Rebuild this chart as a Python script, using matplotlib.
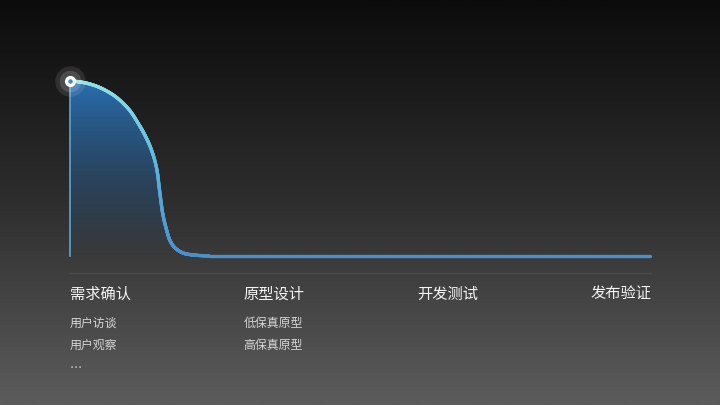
import numpy as np
import matplotlib.pyplot as plt
from matplotlib.collections import LineCollection
from matplotlib.colors import LinearSegmentedColormap

plt.rcParams['font.family'] = ['Noto Sans CJK SC', 'DejaVu Sans']

# curve: progress (0-100) vs. level (0-100)
progress = [0, 2, 4, 7, 10, 12, 13, 14, 15, 15.5, 16, 16.6, 17.2, 18, 19, 20, 21.3, 24, 100]
level = [100, 99.3, 97.7, 93.0, 84.4, 74.5, 68.5, 61, 49, 36, 24, 15.5, 9.1, 5, 2.5, 1.2, 0.6, 0, 0]

stages = ["需求确认", "原型设计", "开发测试", "发布验证"]
details = [["用户访谈", "用户观察", "…"], ["低保真原型", "高保真原型"], [], []]


def smooth(xs, ys, n=30):
    # monotone cubic (pchip-like) drawing between the read points
    xs = np.asarray(xs, float)
    ys = np.asarray(ys, float)
    h = np.diff(xs)
    d = np.diff(ys) / h
    m = np.zeros_like(ys)
    for k in range(1, len(xs) - 1):
        if d[k - 1] * d[k] > 0:
            w1 = 2 * h[k] + h[k - 1]
            w2 = h[k] + 2 * h[k - 1]
            m[k] = (w1 + w2) / (w1 / d[k - 1] + w2 / d[k])
    ox, oy = [], []
    for k in range(len(xs) - 1):
        t = np.linspace(0, 1, n, endpoint=False)
        h00 = 2 * t**3 - 3 * t**2 + 1
        h10 = t**3 - 2 * t**2 + t
        h01 = -2 * t**3 + 3 * t**2
        h11 = t**3 - t**2
        ox.append(xs[k] + t * h[k])
        oy.append(h00 * ys[k] + h10 * h[k] * m[k] + h01 * ys[k + 1] + h11 * h[k] * m[k + 1])
    ox.append([xs[-1]])
    oy.append([ys[-1]])
    return np.concatenate(ox), np.concatenate(oy)


W, H = 720, 405
fig = plt.figure(figsize=(W / 100, H / 100), dpi=100)

# background gradient
bg = fig.add_axes([0, 0, 1, 1])
grad = np.linspace(0, 1, 256).reshape(-1, 1)
bg_cmap = LinearSegmentedColormap.from_list("bg", ["#0c0c0c", "#2e2e2e", "#5c5c5c"])
bg.imshow(grad, aspect="auto", cmap=bg_cmap, extent=[0, 1, 0, 1], origin="upper")
bg.set_xlim(0, 1)
bg.set_ylim(0, 1)
bg.axis("off")

# separator line
bg.plot([69 / W, 651 / W], [1 - 273 / H, 1 - 273 / H], color="#4a4a4a", lw=1)

ax = fig.add_axes([70 / W, 1 - 256 / H, 580 / W, 175 / H])
ax.set_xlim(0, 100)
ax.set_ylim(0, 100)
ax.axis("off")

x, y = smooth(progress, level)

# gradient fill under the curve
fill_cmap = LinearSegmentedColormap.from_list(
    "fill", [(0.17, 0.43, 0.68, 0.0), (0.17, 0.43, 0.68, 0.45), (0.17, 0.45, 0.72, 0.95)])
poly = ax.fill_between(x, y, 0, color="none", lw=0)
img = ax.imshow(np.linspace(0, 1, 256).reshape(-1, 1), aspect="auto", cmap=fill_cmap,
                extent=[0, 100, 0, 100], origin="lower", zorder=1)
img.set_clip_path(poly.get_paths()[0], transform=ax.transData)

# vertical line at start
ax.plot([0, 0], [0, 100], color="#5aa6d8", lw=1.2, zorder=2, clip_on=False)

# curve with colour shifting along height
pts = np.column_stack([x, y]).reshape(-1, 1, 2)
segs = np.concatenate([pts[:-1], pts[1:]], axis=1)
line_cmap = LinearSegmentedColormap.from_list("line", ["#4a90cc", "#5ab4dc", "#92e2e6"])
lc = LineCollection(segs, cmap=line_cmap, linewidths=2.4, capstyle="round", joinstyle="round", zorder=3)
lc.set_array((y[:-1] + y[1:]) / 200)
lc.set_clim(0, 1)
lc.set_clip_on(False)
ax.add_collection(lc)

# start marker with glow
ax.scatter([0], [100], s=480, color="#ffffff", alpha=0.10, lw=0, clip_on=False, zorder=4)
ax.scatter([0], [100], s=240, color="#ffffff", alpha=0.14, lw=0, clip_on=False, zorder=4)
ax.scatter([0], [100], s=65, color="#ffffff", lw=0, clip_on=False, zorder=5)
ax.scatter([0], [100], s=10, color="#3a8cc8", lw=0, clip_on=False, zorder=6)

# stage labels
for i, (name, subs) in enumerate(zip(stages, details)):
    px = 70 + i * 173.5
    bg.text(px / W, 1 - 294 / H, name, color="#f4f4f4", fontsize=11, fontweight="medium",
            ha="left", va="center")
    for j, s in enumerate(subs):
        bg.text(px / W, 1 - (323 + j * 22.5) / H, s, color="#d6d6d6", fontsize=8.6,
                ha="left", va="center")

fig.savefig("out.png", dpi=100)
